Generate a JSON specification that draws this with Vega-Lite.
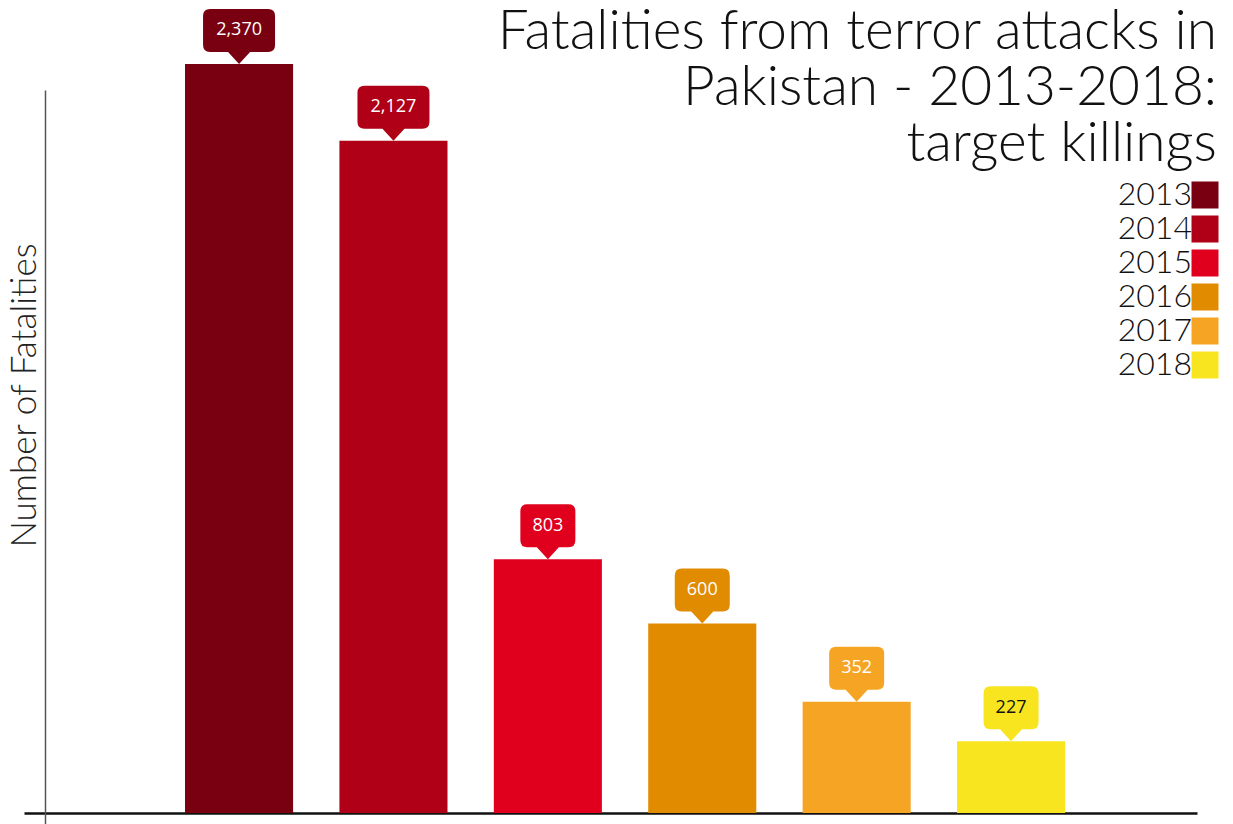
{
  "$schema": "https://vega.github.io/schema/vega-lite/v6.json",
  "width": 1173,
  "height": 734,
  "autosize": {"type": "none"},
  "padding": {"left": 24, "top": 90, "right": 36, "bottom": 0},
  "background": "white",
  "config": {"view": {"stroke": null}},
  "title": {
    "text": ["Fatalities from terror attacks in", "Pakistan - 2013-2018:", "target killings"],
    "anchor": "end",
    "frame": "group",
    "orient": "top",
    "offset": 0,
    "baseline": "alphabetic",
    "align": "right",
    "dy": 207,
    "dx": 20,
    "font": "Lato",
    "fontWeight": 300,
    "fontSize": 55,
    "lineHeight": 56,
    "color": "#111111"
  },
  "data": {
    "values": [
      {"year": "2013", "fatalities": 2370},
      {"year": "2014", "fatalities": 2127},
      {"year": "2015", "fatalities": 803},
      {"year": "2016", "fatalities": 600},
      {"year": "2017", "fatalities": 352},
      {"year": "2018", "fatalities": 227}
    ]
  },
  "encoding": {
    "x": {
      "field": "year",
      "type": "nominal",
      "scale": {"paddingInner": 0.3, "paddingOuter": 0.9486, "align": 0.5497},
      "axis": {"title": null, "labels": false, "ticks": false, "grid": false, "domain": true, "domainColor": "#111111", "domainWidth": 2.5, "offset": -11}
    },
    "y": {
      "field": "fatalities",
      "type": "quantitative",
      "scale": {"domain": [-34.8, 2287.7], "nice": false},
      "axis": {
        "title": "Number of Fatalities",
        "labels": false,
        "ticks": false,
        "grid": false,
        "domain": true,
        "domainColor": "#555555",
        "domainWidth": 1.5,
        "offset": -21,
        "titleFont": "Lato",
        "titleFontWeight": 300,
        "titleFontSize": 35,
        "titleColor": "#222222",
        "titleAngle": 270,
        "titleX": -10,
        "titleY": 305,
        "titleAlign": "center",
        "titleBaseline": "alphabetic"
      }
    },
    "color": {
      "field": "year",
      "type": "nominal",
      "scale": {
        "domain": ["2013", "2014", "2015", "2016", "2017", "2018"],
        "range": ["#780010", "#AF0017", "#E0001E", "#E08B00", "#F5A523", "#F8E520"]
      },
      "legend": {
        "title": null,
        "orient": "none",
        "legendX": 1165,
        "legendY": 89,
        "padding": 0,
        "symbolType": "square",
        "symbolSize": 729,
        "symbolStrokeWidth": 0,
        "symbolOpacity": 1,
        "labelAlign": "right",
        "labelOffset": -29,
        "labelFont": "Lato",
        "labelFontWeight": 300,
        "labelFontSize": 32,
        "labelColor": "#111111",
        "rowPadding": 2
      }
    }
  },
  "layer": [
    {"mark": {"type": "bar"}},
    {
      "transform": [{"filter": "datum.fatalities >= 1000"}],
      "mark": {
        "type": "point",
        "shape": "M -0.11 -0.12 L 0 0 L 0.11 -0.12 L 0.29 -0.12 Q 0.36 -0.12 0.36 -0.19 L 0.36 -0.48 Q 0.36 -0.55 0.29 -0.55 L -0.29 -0.55 Q -0.36 -0.55 -0.36 -0.48 L -0.36 -0.19 Q -0.36 -0.12 -0.29 -0.12 Z",
        "size": 40000,
        "filled": true,
        "opacity": 1,
        "strokeWidth": 0
      }
    },
    {
      "transform": [{"filter": "datum.fatalities < 1000"}],
      "mark": {
        "type": "point",
        "shape": "M -0.11 -0.12 L 0 0 L 0.11 -0.12 L 0.205 -0.12 Q 0.275 -0.12 0.275 -0.19 L 0.275 -0.48 Q 0.275 -0.55 0.205 -0.55 L -0.205 -0.55 Q -0.275 -0.55 -0.275 -0.48 L -0.275 -0.19 Q -0.275 -0.12 -0.205 -0.12 Z",
        "size": 40000,
        "filled": true,
        "opacity": 1,
        "strokeWidth": 0
      }
    },
    {
      "mark": {"type": "text", "dy": -33.5, "baseline": "middle", "align": "center", "font": "Open Sans", "fontSize": 18},
      "encoding": {
        "text": {"field": "fatalities", "type": "quantitative", "format": ","},
        "color": {"condition": {"test": "datum.year === '2018'", "value": "#111111"}, "value": "#ffffff"}
      }
    }
  ]
}
